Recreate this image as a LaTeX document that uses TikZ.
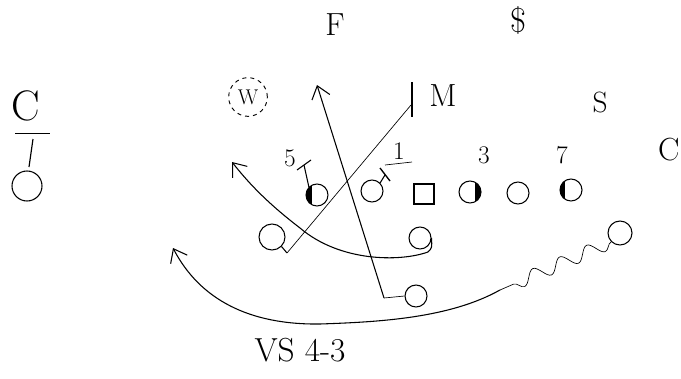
\documentclass[tikz,border=0pt]{standalone}
\usepackage{fontspec}
\usetikzlibrary{arrows.meta,decorations.pathmorphing,shapes.geometric}
\newcommand{\fs}[1]{\fontsize{#1}{#1}\selectfont}
\begin{document}
\begin{tikzpicture}[x=0.75pt,y=-0.75pt,
  pl/.style={draw,circle,line width=0.8pt,minimum size=22pt*0.75,inner sep=0pt},
  sq/.style={draw,rectangle,line width=0.8pt,minimum size=20pt*0.75,inner sep=0pt},
  lbl/.style={font=\fs{24},inner sep=1pt},
  num/.style={font=\fs{19},inner sep=1pt},
  route/.style={line width=0.8pt,-{Straight Barb[length=9pt,width=14pt]}},
  thin/.style={line width=0.5pt}]
\useasboundingbox (0,0) rectangle (681,378);
% left C / T / O
\node[font=\fs{32},inner sep=1pt] (cL) at (26,106) {C};
\coordinate (u1) at (15,133); \coordinate (u2) at (50,133);
\draw[thin] (u1) -- (u2);
\coordinate (t1) at (33,139); \coordinate (t2) at (29,167);
\draw[line width=0.9pt] (t1) -- (t2);
\node[pl,minimum size=30pt*0.75] (oL) at (27,186) {};
% defenders
\node[lbl] (F) at (335,25) {F};
\node[font=\fs{26},inner sep=1pt] (dol) at (518,20) {\$};
\node[font=\fs{16},inner sep=0pt] (W) at (248,97) {W};
\node[draw,circle,dashed,minimum size=29pt,line width=0.7pt] (Wc) at (248,97) {};
\node[lbl] (M) at (443,96) {M};
\coordinate (mb1) at (412,82); \coordinate (mb2) at (412,117);
\draw[line width=1pt] (mb1) -- (mb2);
\node[font=\fs{22},inner sep=1pt] (S) at (600,102) {S};
\node[lbl,anchor=east] (CR) at (681,150) {C};
% numbers
\node[num] (n5) at (290,158) {5};
\node[num] (n1) at (399,151) {1};
\coordinate (n1a) at (385,165); \coordinate (n1b) at (412,162);
\draw[thin] (n1a) -- (n1b);
\node[num] (n3) at (484,155) {3};
\node[num] (n7) at (562,155) {7};
% line
\node[pl] (p1) at (317,195) {};
\node[pl] (p2) at (372,191) {};
\node[sq] (ctr) at (424,194) {};
\node[pl] (p4) at (470,192) {};
\node[pl] (p5) at (518,193) {};
\node[pl] (p6) at (571,190) {};
% partial fills
\begin{scope}
\clip (p1) circle (8.25pt);
\fill (p1.west) ++(0,-10pt) rectangle ++(5pt,20pt);
\end{scope}
\begin{scope}
\clip (p4) circle (8.25pt);
\fill (p4.east) ++(0,-10pt) rectangle ++(-5pt,20pt);
\end{scope}
\begin{scope}
\clip (p6) circle (8.25pt);
\fill (p6.west) ++(0,-10pt) rectangle ++(4.5pt,20pt);
\end{scope}
% blocks marks
\coordinate (b1a) at (297,170); \coordinate (b1b) at (311,160);
\coordinate (b1m) at (304,165);
\draw[line width=0.8pt] (p1.north west) -- (b1m);
\draw[line width=0.8pt] (b1a) -- (b1b);
\coordinate (b2a) at (380,168); \coordinate (b2b) at (390,181);
\coordinate (b2m) at (385,175);
\draw[line width=0.8pt] (p2.north east) -- (b2m);
\draw[line width=1pt] (b2a) -- (b2b);
% backs
\node[pl,minimum size=26pt*0.75] (Q) at (272,237) {};
\coordinate (Qt) at (287,253);
\coordinate (Mt) at (411,105);
\draw[line width=0.8pt] (Q.south east) -- (Qt);
\draw[thin] (Qt) -- (Mt);
\node[pl,minimum size=22pt*0.75] (nine) at (420,238) {};
\coordinate (ninet) at (428,252);
\draw[line width=0.8pt] (nine.east) .. controls (432,248) .. (ninet);
\coordinate (arrL) at (232,162);
\draw[route] (ninet) .. controls (400,262) and (340,262) .. (300,228) .. controls (270,205) and (250,185) .. (arrL);
\node[pl,minimum size=22pt*0.75] (rb) at (416,296) {};
\coordinate (rbt) at (384,298);
\draw[thin] (rb.west) -- (rbt);
\coordinate (arrF) at (317,85);
\draw[route] (rbt) -- (arrF);
% wide receiver motion
\node[pl,minimum size=24pt*0.75] (wr) at (620,233) {};
\coordinate (wv) at (500,290);
\draw[thin,decorate,decoration={snake,segment length=22pt,amplitude=5pt}] (wr.south west) -- (wv);
\coordinate (arrB) at (173,248);
\draw[route] (wv) .. controls (450,318) and (380,322) .. (320,324) .. controls (250,325) and (200,300) .. (arrB);
% caption
\node[font=\fs{25}] (cap) at (300,350) {VS 4-3};
\end{tikzpicture}
\end{document}
